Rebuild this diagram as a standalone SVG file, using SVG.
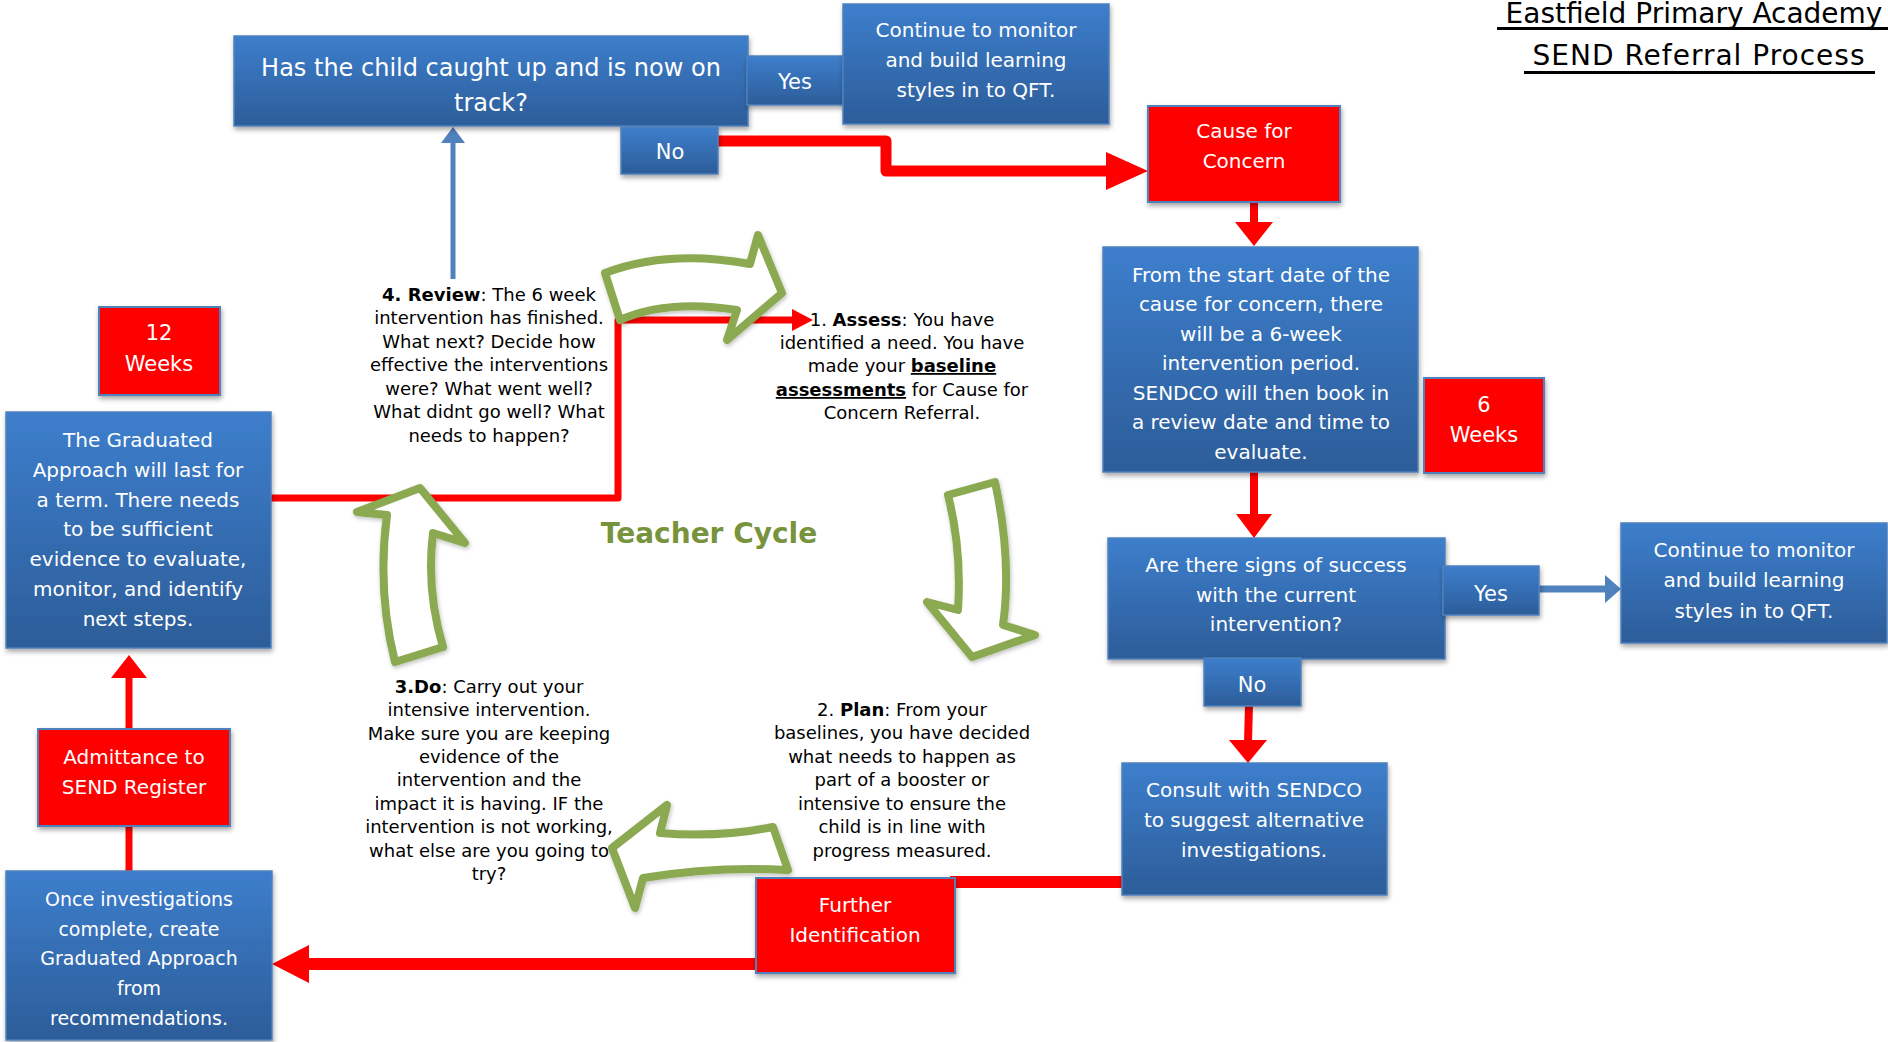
<svg xmlns="http://www.w3.org/2000/svg" width="1888" height="1042" viewBox="0 0 1888 1042">
<defs>
<linearGradient id="bg" x1="0" y1="0" x2="0" y2="1">
<stop offset="0" stop-color="#3D7ECC"/>
<stop offset="1" stop-color="#2C5D99"/>
</linearGradient>
<filter id="sh" x="-10%" y="-10%" width="125%" height="130%">
<feDropShadow dx="1" dy="3" stdDeviation="2.5" flood-color="#000" flood-opacity="0.35"/>
</filter>
<filter id="gs" x="-10%" y="-10%" width="125%" height="130%">
<feDropShadow dx="1" dy="2" stdDeviation="2" flood-color="#000" flood-opacity="0.25"/>
</filter>
<style>
text{font-family:"DejaVu Sans",sans-serif;text-anchor:middle}
.blue{fill:url(#bg);stroke:#4F81BD;stroke-width:1.5;filter:url(#sh)}
.red{fill:#FF0000;stroke:#4F81BD;stroke-width:2;filter:url(#sh)}
.w{fill:#FFFFFF;font-size:20px}
.k{fill:#000000;font-size:18px}
.b{font-weight:bold}
.u{font-weight:bold;text-decoration:underline}
.rl{fill:none;stroke:#FF0000;stroke-linejoin:round}
.rh{fill:#FF0000}
.bl{fill:none;stroke:#4F81BD}
.bh{fill:#4F81BD}
.ga{fill:#FFFFFF;stroke:#8BA951;stroke-width:8;stroke-linejoin:round;filter:url(#gs)}
.tt{font-size:28px}
</style>
</defs>

<g id="title">
<text class="tt" x="1694" y="23">Eastfield Primary Academy</text>
<line x1="1497" y1="28.5" x2="1888" y2="28.5" stroke="#000" stroke-width="3"/>
<text class="tt" x="1699" y="65" style="letter-spacing:1px">SEND Referral Process</text>
<line x1="1524" y1="72.5" x2="1875" y2="72.5" stroke="#000" stroke-width="3"/>
</g>

<g id="connectors">
<polyline class="rl" stroke-width="11" points="715,141 886,141 886,171 1110,171"/>
<polygon class="rh" points="1106,152 1148,171 1106,190"/>
<line class="rl" stroke-width="8" x1="1254" y1="202" x2="1254" y2="224"/>
<polygon class="rh" points="1235,222 1273,222 1254,246"/>
<line class="rl" stroke-width="8" x1="1254" y1="472" x2="1254" y2="516"/>
<polygon class="rh" points="1236,514 1272,514 1254,538"/>
<line class="bl" stroke-width="7" x1="1539" y1="589" x2="1608" y2="589"/>
<polygon class="bh" points="1605,575 1621,589 1605,603"/>
<line class="rl" stroke-width="8" x1="1249" y1="705" x2="1248" y2="742"/>
<polygon class="rh" points="1229,740 1267,740 1248,763"/>
<line class="rl" stroke-width="12" x1="1123" y1="882" x2="950" y2="882"/>
<line class="rl" stroke-width="12" x1="760" y1="964" x2="305" y2="964"/>
<polygon class="rh" points="309,945 272,964 309,983"/>
<line class="rl" stroke-width="7" x1="129" y1="872" x2="129" y2="825"/>
<line class="rl" stroke-width="7" x1="129" y1="730" x2="129" y2="675"/>
<polygon class="rh" points="111,678 147,678 129,655"/>
<polyline class="rl" stroke-width="7" points="270,498 618,498 618,320 796,320"/>
<polygon class="rh" points="792,309 813,320 792,331"/>
<line class="bl" stroke-width="5" x1="453" y1="279" x2="453" y2="140"/>
<polygon class="bh" points="441,143 465,143 453,127"/>
</g>

<g id="node-question-top">
<rect class="blue" x="234" y="36" width="514" height="90"/>
<text class="w" x="491" y="76" style="font-size:24px">Has the child caught up and is now on</text>
<text class="w" x="491" y="111" style="font-size:24px">track?</text>
</g>
<g id="node-yes-top">
<rect class="blue" x="747" y="56" width="96" height="49"/>
<text class="w" x="795" y="89" style="font-size:21px">Yes</text>
</g>
<g id="node-continue-top">
<rect class="blue" x="843" y="4" width="266" height="120"/>
<text class="w" x="976" y="37">Continue to monitor</text>
<text class="w" x="976" y="67">and build learning</text>
<text class="w" x="976" y="97">styles in to QFT.</text>
</g>
<g id="node-no-top">
<rect class="blue" x="621" y="127" width="97" height="47"/>
<text class="w" x="670" y="159" style="font-size:21px">No</text>
</g>
<g id="node-cause">
<rect class="red" x="1148" y="106" width="192" height="96"/>
<text class="w" x="1244" y="138">Cause for</text>
<text class="w" x="1244" y="168">Concern</text>
</g>
<g id="node-start-date">
<rect class="blue" x="1103" y="247" width="315" height="225"/>
<text class="w" x="1261" y="282">From the start date of the</text>
<text class="w" x="1261" y="311">cause for concern, there</text>
<text class="w" x="1261" y="341">will be a 6-week</text>
<text class="w" x="1261" y="370">intervention period.</text>
<text class="w" x="1261" y="400">SENDCO will then book in</text>
<text class="w" x="1261" y="429">a review date and time to</text>
<text class="w" x="1261" y="459">evaluate.</text>
</g>
<g id="node-6-weeks">
<rect class="red" x="1424" y="378" width="120" height="95"/>
<text class="w" x="1484" y="412" style="font-size:21px">6</text>
<text class="w" x="1484" y="442" style="font-size:21px">Weeks</text>
</g>
<g id="node-signs">
<rect class="blue" x="1108" y="538" width="337" height="121"/>
<text class="w" x="1276" y="572">Are there signs of success</text>
<text class="w" x="1276" y="602">with the current</text>
<text class="w" x="1276" y="631">intervention?</text>
</g>
<g id="node-yes-right">
<rect class="blue" x="1443" y="566" width="96" height="49"/>
<text class="w" x="1491" y="601" style="font-size:21px">Yes</text>
</g>
<g id="node-continue-right">
<rect class="blue" x="1621" y="523" width="266" height="120"/>
<text class="w" x="1754" y="557">Continue to monitor</text>
<text class="w" x="1754" y="587">and build learning</text>
<text class="w" x="1754" y="618">styles in to QFT.</text>
</g>
<g id="node-no-bottom">
<rect class="blue" x="1204" y="658" width="97" height="48"/>
<text class="w" x="1252" y="692" style="font-size:21px">No</text>
</g>
<g id="node-consult">
<rect class="blue" x="1122" y="763" width="265" height="132"/>
<text class="w" x="1254" y="797">Consult with SENDCO</text>
<text class="w" x="1254" y="827">to suggest alternative</text>
<text class="w" x="1254" y="857">investigations.</text>
</g>
<g id="node-further">
<rect class="red" x="756" y="878" width="199" height="95"/>
<text class="w" x="855" y="912">Further</text>
<text class="w" x="855" y="942">Identification</text>
</g>
<g id="node-once">
<rect class="blue" x="6" y="871" width="266" height="169"/>
<text class="w" x="139" y="906" style="font-size:19px">Once investigations</text>
<text class="w" x="139" y="936" style="font-size:19px">complete, create</text>
<text class="w" x="139" y="965" style="font-size:19px">Graduated Approach</text>
<text class="w" x="139" y="995" style="font-size:19px">from</text>
<text class="w" x="139" y="1025" style="font-size:19px">recommendations.</text>
</g>
<g id="node-admittance">
<rect class="red" x="38" y="729" width="192" height="97"/>
<text class="w" x="134" y="764">Admittance to</text>
<text class="w" x="134" y="794">SEND Register</text>
</g>
<g id="node-graduated">
<rect class="blue" x="6" y="412" width="265" height="236"/>
<text class="w" x="138" y="447">The Graduated</text>
<text class="w" x="138" y="477">Approach will last for</text>
<text class="w" x="138" y="507">a term. There needs</text>
<text class="w" x="138" y="536">to be sufficient</text>
<text class="w" x="138" y="566">evidence to evaluate,</text>
<text class="w" x="138" y="596">monitor, and identify</text>
<text class="w" x="138" y="626">next steps.</text>
</g>
<g id="node-12-weeks">
<rect class="red" x="99" y="307" width="121" height="88"/>
<text class="w" x="159" y="340" style="font-size:21px">12</text>
<text class="w" x="159" y="371" style="font-size:21px">Weeks</text>
</g>

<g id="node-review">
<text class="k" x="489" y="301"><tspan class="b">4.  Review</tspan>: The 6 week</text>
<text class="k" x="489" y="324">intervention has finished.</text>
<text class="k" x="489" y="348">What next? Decide how</text>
<text class="k" x="489" y="371">effective the interventions</text>
<text class="k" x="489" y="395">were? What went well?</text>
<text class="k" x="489" y="418">What didnt go well? What</text>
<text class="k" x="489" y="442">needs to happen?</text>
</g>
<g id="node-assess">
<text class="k" x="902" y="326">1. <tspan class="b">Assess</tspan>: You have</text>
<text class="k" x="902" y="349">identified a need. You have</text>
<text class="k" x="902" y="372">made your <tspan class="u">baseline</tspan></text>
<text class="k" x="902" y="396"><tspan class="u">assessments</tspan> for Cause for</text>
<text class="k" x="902" y="419">Concern Referral.</text>
</g>
<g id="node-plan">
<text class="k" x="902" y="716">2. <tspan class="b">Plan</tspan>: From your</text>
<text class="k" x="902" y="739">baselines, you have decided</text>
<text class="k" x="902" y="763">what needs to happen as</text>
<text class="k" x="902" y="786">part of a booster or</text>
<text class="k" x="902" y="810">intensive to ensure the</text>
<text class="k" x="902" y="833">child is in line with</text>
<text class="k" x="902" y="857">progress measured.</text>
</g>
<g id="node-do">
<text class="k" x="489" y="693"><tspan class="b">3.Do</tspan>: Carry out your</text>
<text class="k" x="489" y="716">intensive intervention.</text>
<text class="k" x="489" y="740">Make sure you are keeping</text>
<text class="k" x="489" y="763">evidence of the</text>
<text class="k" x="489" y="786">intervention and the</text>
<text class="k" x="489" y="810">impact it is having. IF the</text>
<text class="k" x="489" y="833">intervention is not working,</text>
<text class="k" x="489" y="857">what else are you going to</text>
<text class="k" x="489" y="880">try?</text>
</g>

<g id="teacher-cycle">
<path class="ga" d="M605,273 Q668,249 750,264 L758,235 L782,293 L727,340 L737,310 Q667,299 620,320 Z"/>
<path class="ga" d="M948,495 L995,482 Q1012,560 1003,625 L1035,635 L972,657 L927,602 L958,610 Q962,550 948,495 Z"/>
<path class="ga" d="M773,827 L788,870 Q715,866 643,878 L635,908 L612,848 L667,805 L660,833 Q717,838 773,827 Z"/>
<path class="ga" d="M395,662 L443,647 Q426,590 433,533 L465,543 L420,488 L357,512 L387,515 Q377,590 395,662 Z"/>
<text x="709" y="543" style="font-size:28px;font-weight:bold;fill:#77933C">Teacher Cycle</text>
</g>
</svg>
